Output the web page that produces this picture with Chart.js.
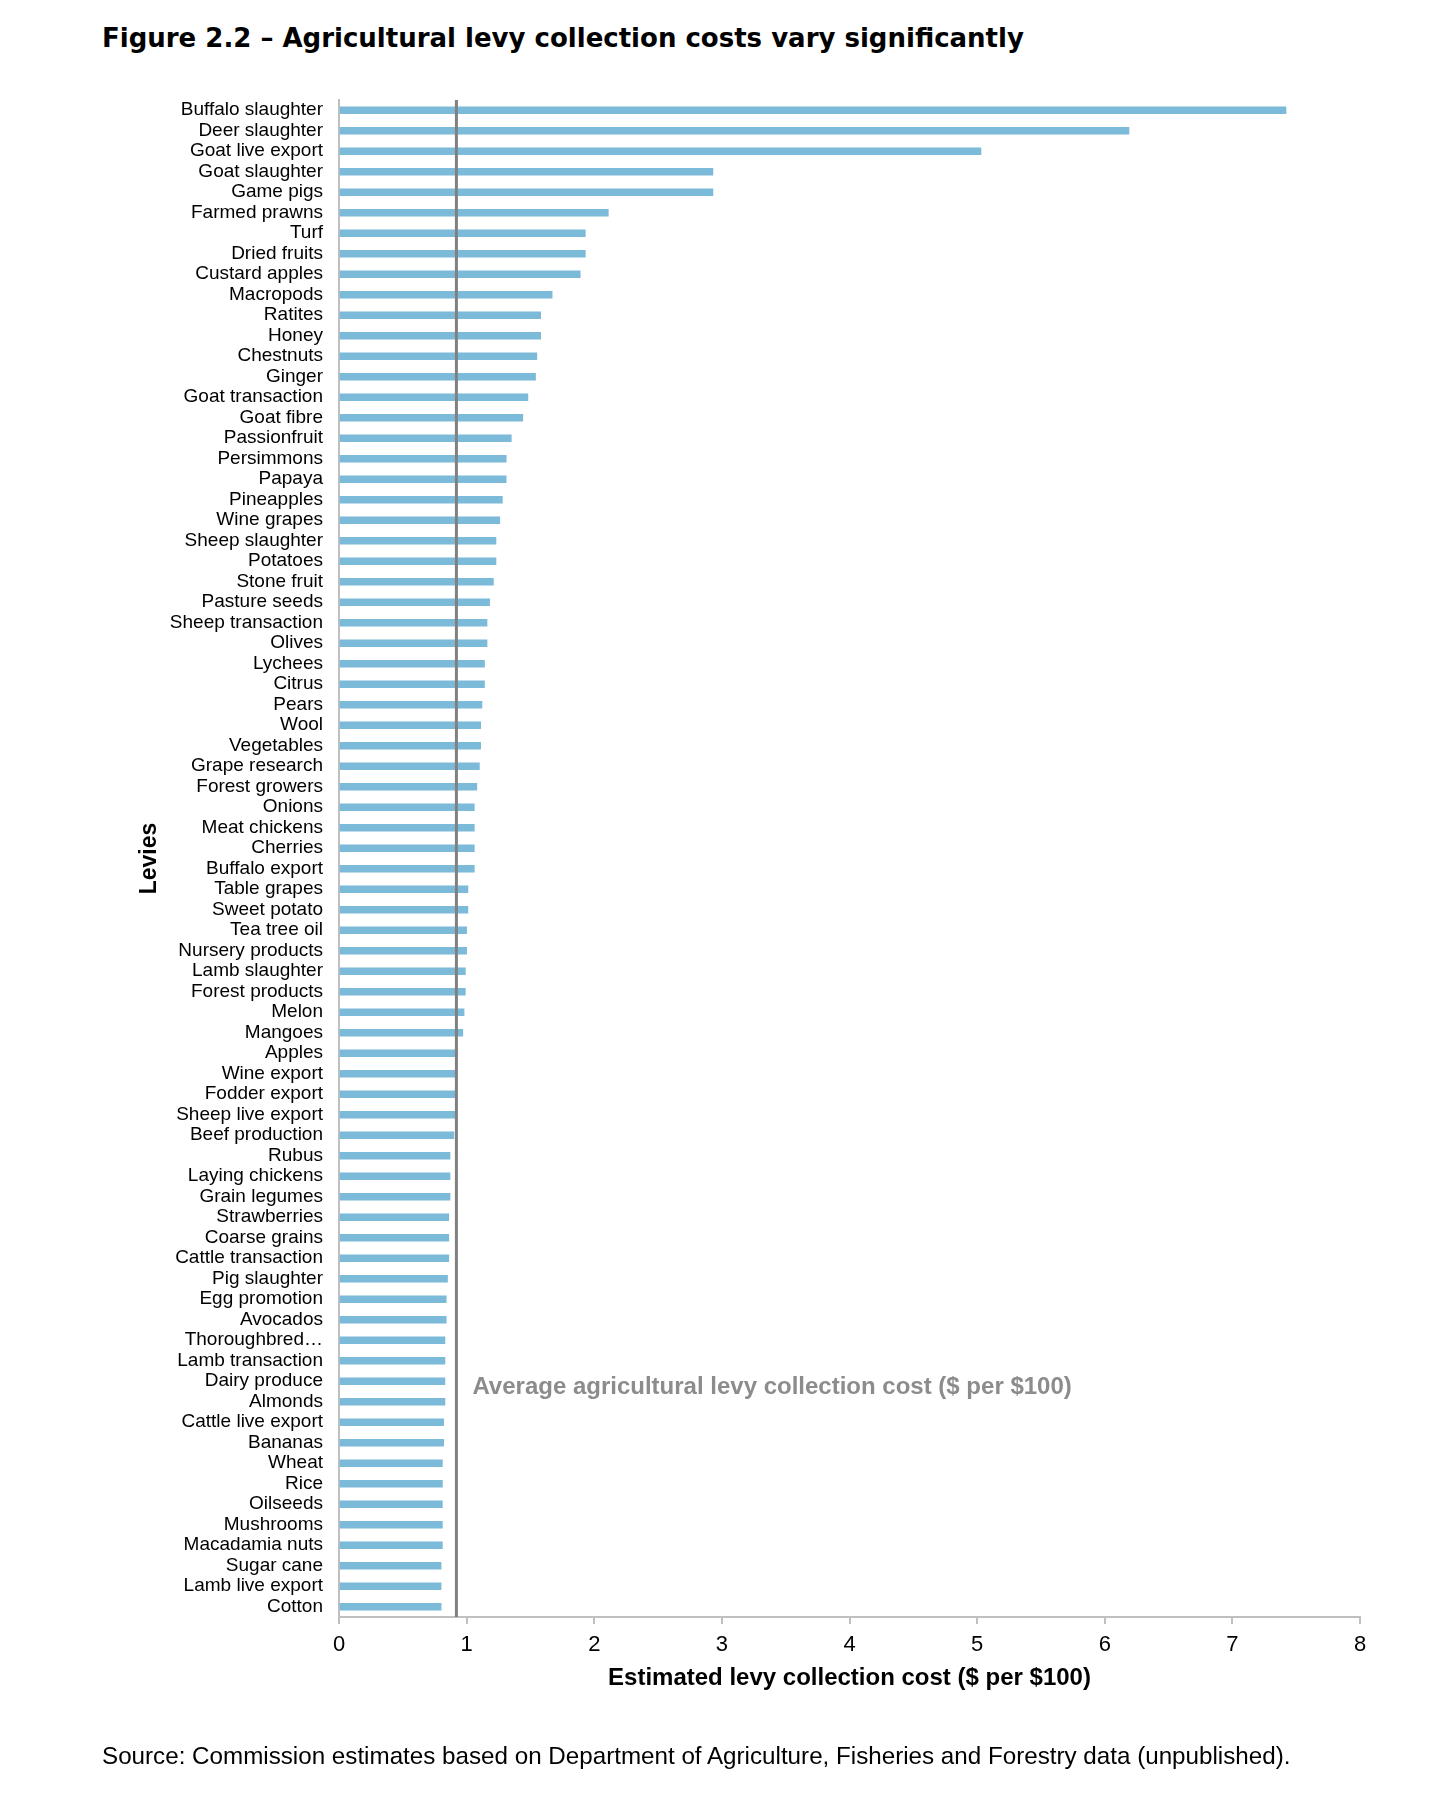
<!DOCTYPE html>
<html>
<head>
<meta charset="utf-8">
<title>Figure 2.2</title>
<script src="https://cdn.jsdelivr.net/npm/chart.js@4.4.0/dist/chart.umd.min.js"></script>
<style>
  body { margin: 0; background: #fff; }
  #wrap { position: relative; width: 1454px; height: 1802px; font-family: "Liberation Sans", Arial, sans-serif; }
  #chart { position: absolute; left: 0; top: 0; }
  h1 { position: absolute; left: 102px; top: 22px; margin: 0; font-family: "DejaVu Sans", sans-serif; font-size: 26px; line-height: 32px; font-weight: bold; color: #000; white-space: nowrap; }
  .source { position: absolute; left: 102px; top: 1742px; margin: 0; font-size: 24.2px; line-height: 28px; color: #000; white-space: nowrap; }
</style>
</head>
<body>
<div id="wrap">
  <h1>Figure 2.2 – Agricultural levy collection costs vary significantly</h1>
  <canvas id="chart" width="1454" height="1802"></canvas>
  <p class="source">Source: Commission estimates based on Department of Agriculture, Fisheries and Forestry data (unpublished).</p>
</div>
<script>
// levies, top to bottom
const levies = [
  'Buffalo slaughter', 'Deer slaughter', 'Goat live export', 'Goat slaughter', 'Game pigs',
  'Farmed prawns', 'Turf', 'Dried fruits', 'Custard apples', 'Macropods',
  'Ratites', 'Honey', 'Chestnuts', 'Ginger', 'Goat transaction',
  'Goat fibre', 'Passionfruit', 'Persimmons', 'Papaya', 'Pineapples',
  'Wine grapes', 'Sheep slaughter', 'Potatoes', 'Stone fruit', 'Pasture seeds',
  'Sheep transaction', 'Olives', 'Lychees', 'Citrus', 'Pears',
  'Wool', 'Vegetables', 'Grape research', 'Forest growers', 'Onions',
  'Meat chickens', 'Cherries', 'Buffalo export', 'Table grapes', 'Sweet potato',
  'Tea tree oil', 'Nursery products', 'Lamb slaughter', 'Forest products', 'Melon',
  'Mangoes', 'Apples', 'Wine export', 'Fodder export', 'Sheep live export',
  'Beef production', 'Rubus', 'Laying chickens', 'Grain legumes', 'Strawberries',
  'Coarse grains', 'Cattle transaction', 'Pig slaughter', 'Egg promotion', 'Avocados',
  'Thoroughbred…', 'Lamb transaction', 'Dairy produce', 'Almonds', 'Cattle live export',
  'Bananas', 'Wheat', 'Rice', 'Oilseeds', 'Mushrooms',
  'Macadamia nuts', 'Sugar cane', 'Lamb live export', 'Cotton'
];

// estimated collection cost, $ per $100
const costs = [
  7.42, 6.19, 5.03, 2.93, 2.93,
  2.11, 1.93, 1.93, 1.89, 1.67,
  1.58, 1.58, 1.55, 1.54, 1.48,
  1.44, 1.35, 1.31, 1.31, 1.28,
  1.26, 1.23, 1.23, 1.21, 1.18,
  1.16, 1.16, 1.14, 1.14, 1.12,
  1.11, 1.11, 1.10, 1.08, 1.06,
  1.06, 1.06, 1.06, 1.01, 1.01,
  1.00, 1.00, 0.99, 0.99, 0.98,
  0.97, 0.93, 0.91, 0.91, 0.91,
  0.90, 0.87, 0.87, 0.87, 0.86,
  0.86, 0.86, 0.85, 0.84, 0.84,
  0.83, 0.83, 0.83, 0.83, 0.82,
  0.82, 0.81, 0.81, 0.81, 0.81,
  0.81, 0.80, 0.80, 0.80
];

const averageCost = 0.92;
const averageLabel = 'Average agricultural levy collection cost ($ per $100)';
const averageLabelAt = 'Dairy produce';
const xMin = 0;
const xMax = 8;
const xStep = 1;

// vertical average line + its label
const averageLine = {
  id: 'averageLine',
  afterDatasetsDraw(chart) {
    const { ctx, chartArea, scales } = chart;
    const x = scales.x.getPixelForValue(averageCost);
    ctx.save();
    ctx.strokeStyle = '#808080';
    ctx.lineWidth = 3;
    ctx.beginPath();
    ctx.moveTo(x, chartArea.top);
    ctx.lineTo(x, chartArea.bottom);
    ctx.stroke();
    ctx.fillStyle = '#8c8c8c';
    ctx.font = 'bold 24px "Liberation Sans", Arial, sans-serif';
    ctx.textBaseline = 'middle';
    const y = scales.y.getPixelForValue(levies.indexOf(averageLabelAt)) + 6;
    ctx.fillText(averageLabel, x + 16, y);
    ctx.restore();
  }
};

Chart.defaults.font.family = '"Liberation Sans", Arial, sans-serif';
Chart.defaults.color = '#000';

new Chart(document.getElementById('chart').getContext('2d'), {
  type: 'bar',
  data: {
    labels: levies,
    datasets: [{
      data: costs,
      backgroundColor: '#7bbad8',
      borderWidth: 0,
      barThickness: 7
    }]
  },
  options: {
    indexAxis: 'y',
    responsive: false,
    animation: false,
    layout: { padding: { top: 100, left: 130, right: 94, bottom: 105 } },
    plugins: { legend: { display: false }, tooltip: { enabled: false } },
    scales: {
      x: {
        min: xMin,
        max: xMax,
        afterFit: (scale) => { scale.height = 80; },
        ticks: { stepSize: xStep, font: { size: 22 }, padding: 8, color: '#000' },
        grid: { drawOnChartArea: false, drawTicks: true, tickLength: 7, color: '#c0c0c0', lineWidth: 2 },
        border: { display: true, color: '#c0c0c0', width: 2 },
        title: {
          display: true,
          text: 'Estimated levy collection cost ($ per $100)',
          font: { size: 24, weight: 'bold' },
          color: '#000',
          padding: { top: 0, bottom: 4 }
        }
      },
      y: {
        afterFit: (scale) => { scale.width = 209; },
        ticks: { autoSkip: false, font: { size: 19 }, padding: 16, color: '#000' },
        grid: { display: false, drawTicks: false },
        border: { display: true, color: '#c0c0c0', width: 2 },
        title: {
          display: true,
          text: 'Levies',
          font: { size: 23, weight: 'bold' },
          color: '#000',
          padding: { top: 6, bottom: 0 }
        }
      }
    }
  },
  plugins: [averageLine]
});
</script>
</body>
</html>
